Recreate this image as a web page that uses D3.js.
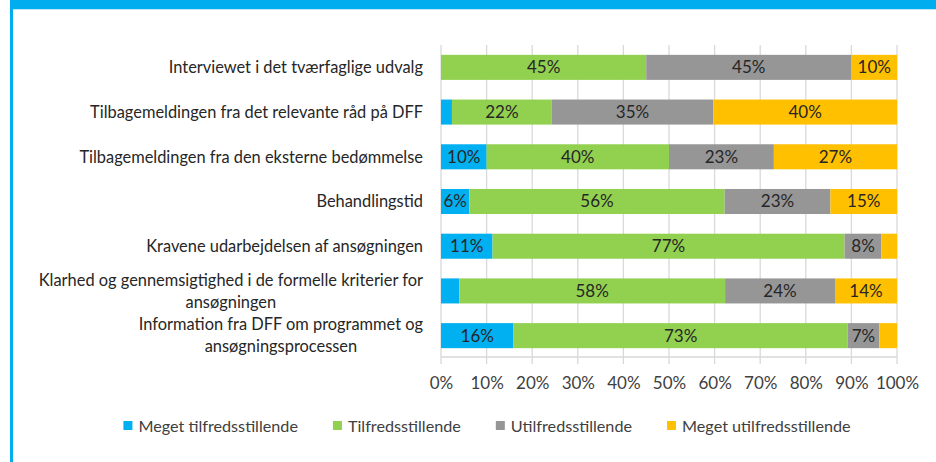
<!DOCTYPE html>
<html>
<head>
<meta charset="utf-8">
<script src="https://cdn.jsdelivr.net/npm/d3@7"></script>
<style>
  body { margin: 0; background: #fff; }
  text { font-family: Lato, "Open Sans", sans-serif; }
</style>
</head>
<body>
<div id="chart"></div>
<script>
// Kategorier (oppefra og ned) - "\n" giver linjeskift i etiketten
var categories = [
  "Interviewet i det tværfaglige udvalg",
  "Tilbagemeldingen fra det relevante råd på DFF",
  "Tilbagemeldingen fra den eksterne bedømmelse",
  "Behandlingstid",
  "Kravene udarbejdelsen af ansøgningen",
  "Klarhed og gennemsigtighed i de formelle kriterier for\nansøgningen",
  "Information fra DFF om programmet og\nansøgningsprocessen"
];
var seriesNames = ["Meget tilfredsstillende", "Tilfredsstillende", "Utilfredsstillende", "Meget utilfredsstillende"];
var seriesColors = ["#00B0F0", "#92D050", "#969696", "#FFC000"];

// Andele i procent
var megetTilfreds = [0, 2.4, 10, 6.2, 11.3, 4.0, 15.9];
var tilfreds = [45, 21.9, 40, 56, 77.2, 58.3, 73.3];
var utilfreds = [45, 35.4, 23, 23.2, 8.1, 24.1, 6.9];
var megetUtilfreds = [10, 40.3, 27, 14.6, 3.4, 13.6, 3.9];

var tickValues = [0, 10, 20, 30, 40, 50, 60, 70, 80, 90, 100];

var width = 936;
var height = 462;

var svg = d3.select("#chart")
            .append("svg")
            .attr("width", width)
            .attr("height", height);

//Ramme
svg.append("rect").attr("x", 10).attr("y", 0).attr("width", width - 10).attr("height", 9).attr("fill", "#00ADEF");
svg.append("rect").attr("x", 10).attr("y", 0).attr("width", 3).attr("height", height).attr("fill", "#00ADEF");
svg.append("rect").attr("x", 13).attr("y", 9).attr("width", width - 13).attr("height", 1).attr("fill", "#BFE8F9");

//Skalaer
var plotLeft = 441, plotRight = 897, plotTop = 45, plotBottom = 358;

var x = d3.scaleLinear().domain([0, 100]).range([plotLeft, plotRight]);
var y = d3.scaleBand()
          .domain(categories)
          .range([plotTop, plotBottom])
          .paddingInner(0.44)
          .paddingOuter(0.22);

//Gitterlinjer
svg.append("g")
   .selectAll("line")
   .data(tickValues)
   .enter()
   .append("line")
   .attr("x1", d => x(d)).attr("x2", d => x(d))
   .attr("y1", plotTop).attr("y2", plotBottom + 6)
   .attr("stroke", "#D9D9D9")
   .attr("stroke-width", 1.3);

svg.append("line")
   .attr("x1", plotLeft).attr("x2", plotRight)
   .attr("y1", plotBottom - 1).attr("y2", plotBottom - 1)
   .attr("stroke", "#D9D9D9")
   .attr("stroke-width", 1.3);

//Akse-etiketter
var xAxis = svg.append("g")
   .attr("transform", "translate(0," + (plotBottom + 25) + ")")
   .call(d3.axisBottom(x).tickValues(tickValues).tickSize(0).tickFormat(d => d + "%"));
xAxis.select(".domain").remove();
xAxis.selectAll("text")
     .attr("dy", "0.35em")
     .attr("y", 0)
     .attr("fill", "#404040")
     .style("font-size", "17px");

//Stablede data
var table = categories.map(function (c, i) {
  return {
    cat: c,
    "Meget tilfredsstillende": megetTilfreds[i],
    "Tilfredsstillende": tilfreds[i],
    "Utilfredsstillende": utilfreds[i],
    "Meget utilfredsstillende": megetUtilfreds[i]
  };
});
var stacked = d3.stack().keys(seriesNames)(table);

var layers = svg.append("g")
   .selectAll("g")
   .data(stacked)
   .enter()
   .append("g")
   .attr("fill", (d, i) => seriesColors[i]);

layers.selectAll("rect")
   .data(d => d)
   .enter()
   .append("rect")
   .attr("x", d => x(d[0]))
   .attr("y", d => y(d.data.cat))
   .attr("width", d => x(d[1]) - x(d[0]))
   .attr("height", y.bandwidth());

layers.selectAll("text")
   .data(d => d.filter(p => p[1] - p[0] >= 5))
   .enter()
   .append("text")
   .attr("x", d => (x(d[0]) + x(d[1])) / 2)
   .attr("y", d => y(d.data.cat) + y.bandwidth() / 2)
   .attr("dy", "0.35em")
   .attr("text-anchor", "middle")
   .attr("fill", "#262626")
   .style("font-size", "17px")
   .text(d => Math.round(d[1] - d[0]) + "%");

//Kategori-etiketter
var labelRight = 423;
var lineHeight = 22;
categories.forEach(function (c) {
  var lines = c.split("\n");
  var cy = y(c) + y.bandwidth() / 2;
  var t = svg.append("text")
             .attr("fill", "#262626")
             .attr("text-anchor", "middle")
             .style("font-size", "16.4px");
  var spans = lines.map(function (l, j) {
    return t.append("tspan")
            .attr("y", cy + (j - (lines.length - 1) / 2) * lineHeight)
            .attr("dy", "0.35em")
            .text(l);
  });
  var w = d3.max(spans, s => s.node().getComputedTextLength());
  spans.forEach(s => s.attr("x", labelRight - w / 2));
});

//Forklaring
var legend = svg.append("g").attr("transform", "translate(0,426)");
var items = legend.selectAll("g")
   .data(seriesNames)
   .enter()
   .append("g");
items.append("rect")
   .attr("y", -5).attr("width", 9).attr("height", 9)
   .attr("fill", (d, i) => seriesColors[i]);
items.append("text")
   .attr("x", 15)
   .attr("dy", "0.35em")
   .attr("fill", "#404040")
   .style("font-size", "16.2px")
   .text(d => d);

var pos = 0;
var offsets = [];
items.each(function () {
  offsets.push(pos);
  pos += 15 + d3.select(this).select("text").node().getComputedTextLength() + 35;
});
var total = pos - 35;
var start = 487 - total / 2;
items.attr("transform", (d, i) => "translate(" + (start + offsets[i]) + ",0)");
</script>
</body>
</html>
